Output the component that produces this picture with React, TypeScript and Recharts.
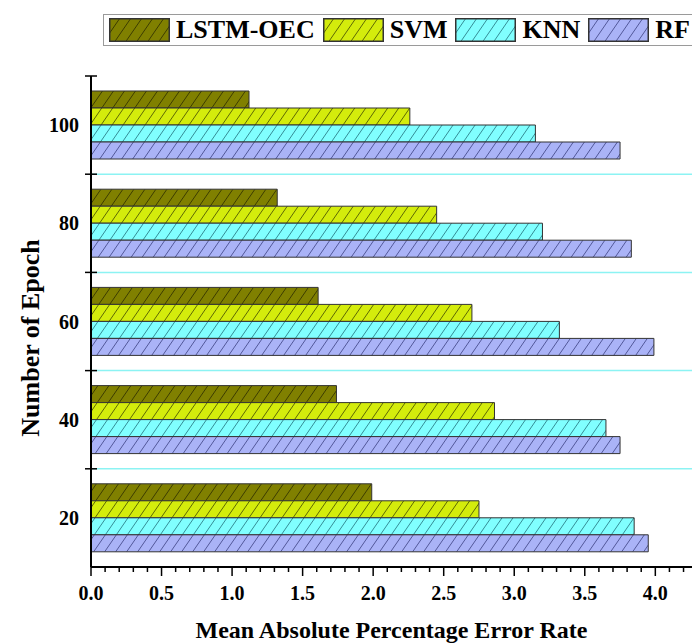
import React from "react";
import { BarChart, Bar, XAxis, YAxis, ReferenceLine } from "recharts";

// epochs listed top to bottom
const epochs = ["100", "80", "60", "40", "20"];
const lstmOec = [1.12, 1.32, 1.61, 1.74, 1.99];
const svm = [2.26, 2.45, 2.7, 2.86, 2.75];
const knn = [3.15, 3.2, 3.32, 3.65, 3.85];
const rf = [3.75, 3.83, 3.99, 3.75, 3.95];

const xTicks = [
  0, 0.1, 0.2, 0.3, 0.4, 0.5, 0.6, 0.7, 0.8, 0.9, 1.0, 1.1, 1.2, 1.3, 1.4,
  1.5, 1.6, 1.7, 1.8, 1.9, 2.0, 2.1, 2.2, 2.3, 2.4, 2.5, 2.6, 2.7, 2.8, 2.9,
  3.0, 3.1, 3.2, 3.3, 3.4, 3.5, 3.6, 3.7, 3.8, 3.9, 4.0, 4.1, 4.2,
];
const boundaryEpochs = ["80", "60", "40", "20"];

const series = [
  { key: "lstm", name: "LSTM-OEC", fill: "#808000", hatch: "#2a2a00" },
  { key: "svm", name: "SVM", fill: "#d4ec0c", hatch: "#3d4500" },
  { key: "knn", name: "KNN", fill: "#80ffff", hatch: "#1f6f7a" },
  { key: "rf", name: "RF", fill: "#aab3f7", hatch: "#3a3f80" },
];

const data = epochs.map((epoch, i) => ({
  epoch,
  lstm: lstmOec[i],
  svm: svm[i],
  knn: knn[i],
  rf: rf[i],
}));

const FONT = "'Liberation Serif', 'Times New Roman', serif";

const Hatch = ({ id, fill, hatch }: { id: string; fill: string; hatch: string }) => (
  <pattern id={id} patternUnits="userSpaceOnUse" width={11} height={16}>
    <rect width={11} height={16} fill={fill} />
    <path
      d="M0,16 L11,0 M-11,16 L0,0 M11,16 L22,0"
      stroke={hatch}
      strokeWidth={0.8}
    />
  </pattern>
);

const XTick = (props: any) => {
  const { x, y, payload } = props;
  const v = payload.value as number;
  const major = Math.abs(v * 2 - Math.round(v * 2)) < 1e-6;
  return (
    <g>
      <line x1={x} x2={x} y1={y} y2={major ? y + 9 : y + 5} stroke="#000" strokeWidth={1.5} />
      {major && (
        <text
          x={x}
          y={y + 33}
          textAnchor="middle"
          fontFamily={FONT}
          fontWeight="bold"
          fontSize={20}
          fill="#000"
        >
          {v.toFixed(1)}
        </text>
      )}
    </g>
  );
};

const YTick = (props: any) => {
  const { x, y, payload } = props;
  const half = payload.offset ?? 49;
  return (
    <g>
      <line x1={x - 6} x2={x + 6} y1={y - half} y2={y - half} stroke="#000" strokeWidth={1.5} />
      <text
        x={x - 12}
        y={y + 7}
        textAnchor="end"
        fontFamily={FONT}
        fontWeight="bold"
        fontSize={20}
        fill="#000"
      >
        {payload.value}
      </text>
    </g>
  );
};

const Legend = () => (
  <div
    style={{
      position: "absolute",
      left: 103,
      top: 14,
      width: 640,
      height: 32,
      border: "1.5px solid #9a9a9a",
      display: "flex",
      alignItems: "center",
      paddingLeft: 5,
      fontFamily: FONT,
      fontWeight: "bold",
      fontSize: 26,
      color: "#000",
      boxSizing: "border-box",
    }}
  >
    {series.map((s) => (
      <div key={s.key} style={{ display: "flex", alignItems: "center", marginRight: 8 }}>
        <svg width={61} height={24} style={{ marginRight: 6 }}>
          <defs>
            <Hatch id={`lg-${s.key}`} fill={s.fill} hatch={s.hatch} />
          </defs>
          <rect x={0.75} y={0.75} width={59.5} height={22.5} fill={`url(#lg-${s.key})`} stroke="#333" strokeWidth={1.5} />
        </svg>
        <span style={{ lineHeight: 1 }}>{s.name}</span>
      </div>
    ))}
  </div>
);

export default function App() {
  return (
    <div
      style={{
        position: "absolute",
        left: 0,
        top: 0,
        width: 692,
        height: 644,
        overflow: "hidden",
        background: "#fff",
      }}
    >
      <BarChart
        width={692}
        height={644}
        data={data}
        layout="vertical"
        margin={{ top: 76, right: 0, bottom: 0, left: 0 }}
        barCategoryGap={15}
        barGap={0}
      >
        <defs>
          {series.map((s) => (
            <Hatch key={s.key} id={`h-${s.key}`} fill={s.fill} hatch={s.hatch} />
          ))}
        </defs>
        <XAxis
          type="number"
          domain={[0, 4.26]}
          allowDataOverflow
          ticks={xTicks}
          interval={0}
          height={77}
          tickSize={0}
          tickMargin={0}
          tickLine={false}
          tick={<XTick />}
          axisLine={{ stroke: "#000", strokeWidth: 2 }}
          label={(p: any) => (
            <text
              x={p.viewBox.x + p.viewBox.width / 2}
              y={638}
              textAnchor="middle"
              fontFamily={FONT}
              fontWeight="bold"
              fontSize={24}
              fill="#000"
            >
              Mean Absolute Percentage Error Rate
            </text>
          )}
        />
        <YAxis
          type="category"
          dataKey="epoch"
          width={91}
          tickSize={0}
          tickMargin={0}
          tickLine={false}
          tick={<YTick />}
          interval={0}
          axisLine={{ stroke: "#000", strokeWidth: 2 }}
          label={() => (
            <text
              x={30}
              y={338}
              transform="rotate(-90 30 338)"
              textAnchor="middle"
              dominantBaseline="central"
              fontFamily={FONT}
              fontWeight="bold"
              fontSize={26}
              fill="#000"
            >
              Number of Epoch
            </text>
          )}
        />
        {boundaryEpochs.map((e) => (
          <ReferenceLine key={e} y={e} position="start" stroke="#8cf3f3" strokeWidth={1.5} />
        ))}
        {series.map((s) => (
          <Bar
            key={s.key}
            dataKey={s.key}
            name={s.name}
            fill={`url(#h-${s.key})`}
            stroke="#333"
            strokeWidth={1}
            isAnimationActive={false}
          />
        ))}
      </BarChart>
      <Legend />
    </div>
  );
}
